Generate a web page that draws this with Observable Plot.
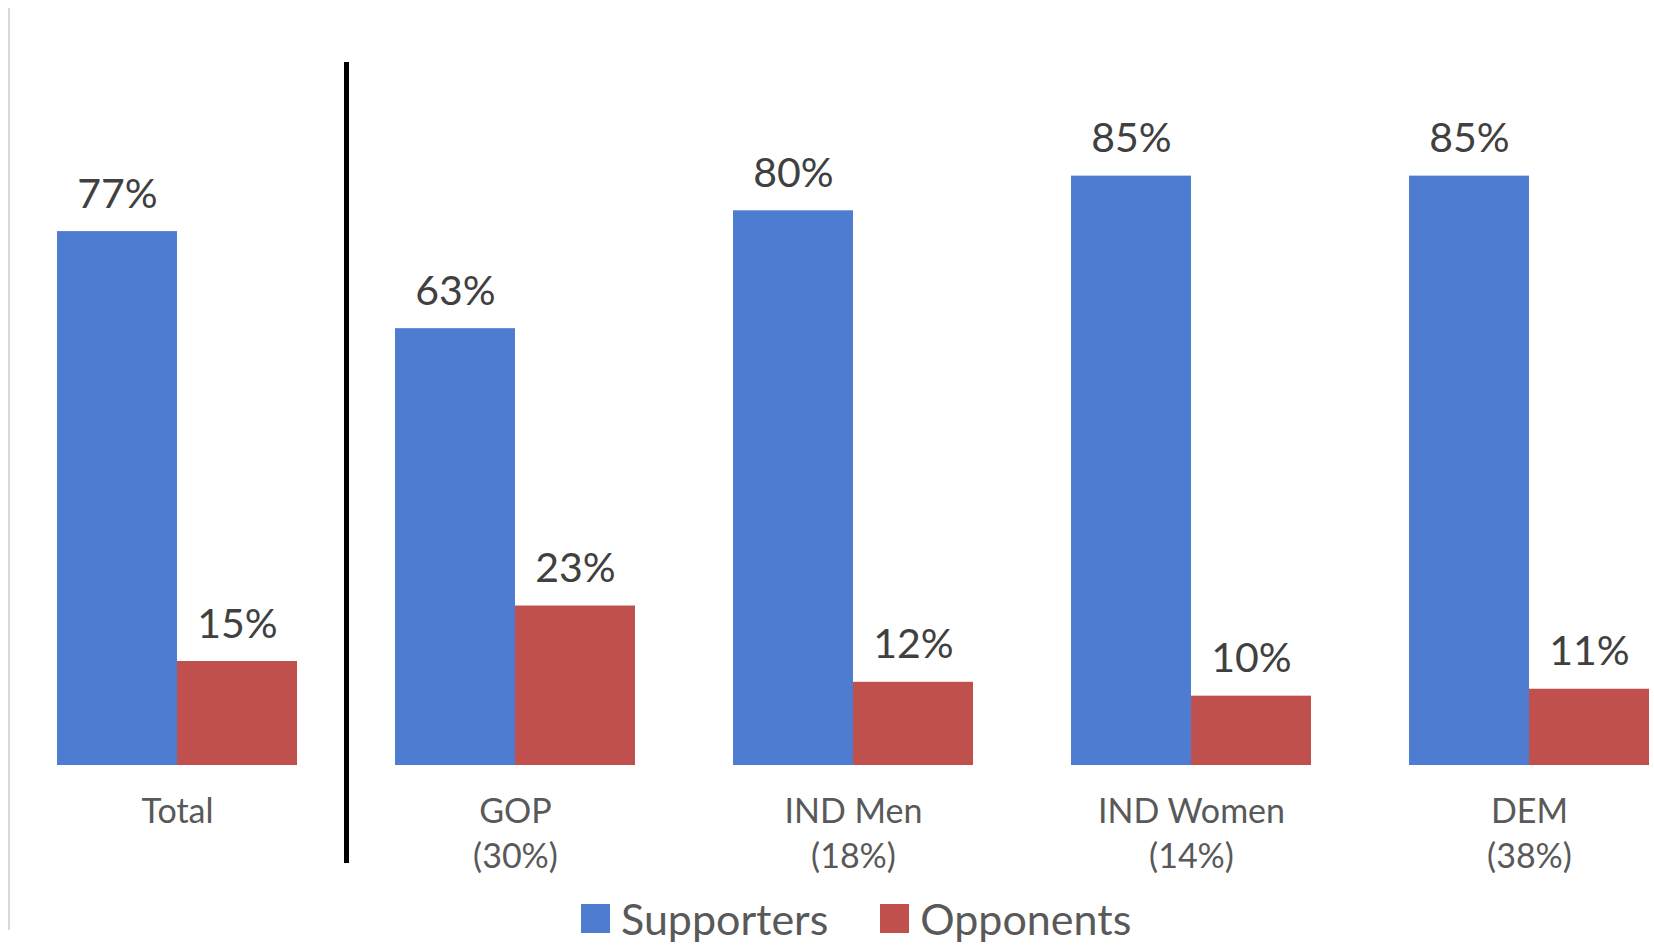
<!DOCTYPE html>
<html><head><meta charset="utf-8">
<script src="https://cdn.jsdelivr.net/npm/d3@7"></script>
<script src="https://cdn.jsdelivr.net/npm/@observablehq/plot@0.6"></script>
<style>
body{margin:0;background:#fff;font-family:Lato,sans-serif;}
#wrap{position:relative;width:1654px;height:945px;overflow:hidden;}
#border{position:absolute;left:8px;top:8px;width:2px;height:922px;background:#d9d9d9;}
#chart{position:absolute;left:0;top:0;}
#legend{position:absolute;left:581px;top:896px;display:flex;align-items:center;font-size:43px;color:#595959;line-height:1.05;}
.sw{display:inline-block;width:29px;height:29px;margin-right:11px;}
.item{display:flex;align-items:center;margin-right:52px;}
</style></head><body>
<div id="wrap"><div id="border"></div><div id="chart"></div><div id="legend"></div></div>
<script>
const categories = ["Total", "GOP", "IND Men", "IND Women", "DEM"];
const shares = ["", "(30%)", "(18%)", "(14%)", "(38%)"];
const seriesNames = ["Supporters", "Opponents"];
const supporters = [77, 63, 80, 85, 85];
const opponents = [15, 23, 12, 10, 11];
const colors = ["#4d7cd0", "#c0504d"];
const dividerBefore = "GOP";

const rows = categories.flatMap((c, i) => [
  {category: c, series: seriesNames[0], value: supporters[i]},
  {category: c, series: seriesNames[1], value: opponents[i]}
]);
const labels = categories.map((c, i) => ({category: c, text: shares[i] ? c + "\n" + shares[i] : c}));

const chart = Plot.plot({
  width: 1654, height: 890,
  marginTop: 64, marginBottom: 30, marginLeft: 8, marginRight: 0,
  style: {fontFamily: "Lato, sans-serif", background: "transparent", overflow: "visible"},
  fx: {domain: categories, range: [8, 1698], padding: 0, axis: null, label: null},
  x: {domain: seriesNames, paddingInner: 0, paddingOuter: 0.397, axis: null},
  y: {domain: [-13.7, 101.1], axis: null},
  color: {domain: seriesNames, range: colors},
  marks: [
    Plot.barY(rows, {fx: "category", x: "series", y: "value", fill: "series"}),
    Plot.text(rows, {fx: "category", x: "series", y: "value", text: d => d.value + "%",
      lineAnchor: "bottom", dy: -24, fontSize: 41, fill: "#404040"}),
    Plot.text(labels, {fx: "category", y: () => 0, text: "text", lineAnchor: "top",
      dy: 26, fontSize: 34, lineHeight: 1.32, fill: "#595959"}),
    Plot.frame({anchor: "left", fx: dividerBefore, stroke: "#000", strokeWidth: 5})
  ]
});
document.getElementById("chart").appendChild(chart);

const legend = document.getElementById("legend");
seriesNames.forEach((s, i) => {
  const item = document.createElement("div");
  item.className = "item";
  const sw = document.createElement("span");
  sw.className = "sw";
  sw.style.background = colors[i];
  const t = document.createElement("span");
  t.textContent = s;
  item.appendChild(sw); item.appendChild(t);
  legend.appendChild(item);
});
</script>
</body></html>
